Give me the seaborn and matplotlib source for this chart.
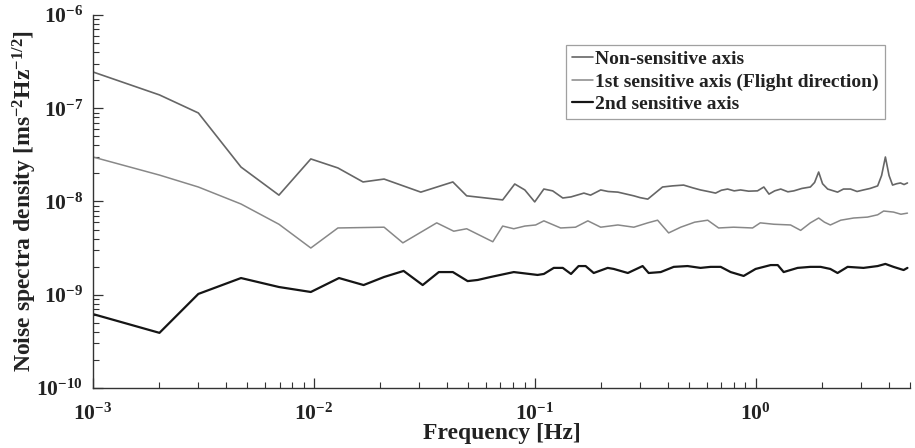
import matplotlib
matplotlib.use("Agg")
import matplotlib.pyplot as plt
import seaborn as sns
import pandas as pd
from matplotlib.lines import Line2D
from matplotlib.ticker import LogLocator, NullFormatter

# ---- data ----
freq_non = [0.001, 0.002, 0.003, 0.00468, 0.00695, 0.00969, 0.01285, 0.0167, 0.0208,
            0.0305, 0.0426, 0.0492, 0.0716, 0.0812, 0.0902, 0.100, 0.110, 0.1206, 0.134,
            0.146, 0.167, 0.179, 0.199, 0.215, 0.238, 0.26, 0.281, 0.30, 0.325, 0.379,
            0.42, 0.472, 0.52, 0.563, 0.61, 0.659, 0.70, 0.747, 0.80, 0.855, 0.93, 1.02,
            1.09, 1.15, 1.22, 1.30, 1.40, 1.49, 1.62, 1.77, 1.85, 1.93, 2.01, 2.12, 2.35,
            2.50, 2.69, 2.88, 3.08, 3.30, 3.57, 3.72, 3.87, 4.02, 4.17, 4.35, 4.53, 4.70, 4.87]
val_non = [2.45e-7, 1.39e-7, 8.9e-8, 2.34e-8, 1.17e-8, 2.86e-8, 2.29e-8, 1.62e-8, 1.74e-8,
           1.26e-8, 1.62e-8, 1.15e-8, 1.04e-8, 1.54e-8, 1.33e-8, 9.9e-9, 1.36e-8, 1.30e-8, 1.09e-8,
           1.12e-8, 1.23e-8, 1.17e-8, 1.33e-8, 1.28e-8, 1.26e-8, 1.20e-8, 1.15e-8, 1.10e-8, 1.06e-8, 1.43e-8,
           1.47e-8, 1.50e-8, 1.40e-8, 1.33e-8, 1.28e-8, 1.23e-8, 1.32e-8, 1.36e-8, 1.30e-8, 1.33e-8, 1.29e-8, 1.30e-8,
           1.43e-8, 1.20e-8, 1.30e-8, 1.36e-8, 1.27e-8, 1.30e-8, 1.38e-8, 1.43e-8, 1.60e-8, 2.07e-8, 1.55e-8, 1.36e-8, 1.26e-8,
           1.36e-8, 1.36e-8, 1.28e-8, 1.33e-8, 1.38e-8, 1.47e-8, 1.90e-8, 3.0e-8, 1.90e-8, 1.50e-8, 1.55e-8, 1.58e-8, 1.52e-8, 1.58e-8]

freq_first = [0.001, 0.002, 0.003, 0.00468, 0.00695, 0.00969, 0.01285, 0.0208, 0.0253, 0.0360,
              0.0430, 0.0492, 0.0646, 0.0716, 0.0804, 0.0902, 0.101, 0.110, 0.131, 0.153, 0.174,
              0.199, 0.238, 0.281, 0.325, 0.360, 0.404, 0.458, 0.53, 0.607, 0.680, 0.795, 0.969,
              1.05, 1.21, 1.44, 1.60, 1.77, 1.93, 2.05, 2.18, 2.43, 2.78, 3.21, 3.57, 3.80, 4.21,
              4.55, 4.87]
val_first = [3.0e-8, 1.92e-8, 1.43e-8, 9.4e-9, 5.7e-9, 3.17e-9, 5.2e-9, 5.3e-9, 3.6e-9, 5.9e-9,
             4.8e-9, 5.1e-9, 3.7e-9, 5.45e-9, 5.1e-9, 5.45e-9, 5.6e-9, 6.2e-9, 5.2e-9, 5.3e-9, 6.2e-9,
             5.3e-9, 5.6e-9, 5.3e-9, 5.9e-9, 6.3e-9, 4.6e-9, 5.3e-9, 6.0e-9, 6.3e-9, 5.2e-9, 5.3e-9, 5.2e-9,
             5.9e-9, 5.7e-9, 5.6e-9, 4.9e-9, 5.9e-9, 6.65e-9, 6.0e-9, 5.6e-9, 6.3e-9, 6.65e-9, 6.8e-9, 7.2e-9, 7.9e-9, 7.7e-9,
             7.3e-9, 7.5e-9]

freq_second = [0.001, 0.002, 0.003, 0.00468, 0.00695, 0.00969, 0.0130, 0.0168, 0.0208, 0.0255,
               0.0311, 0.0368, 0.0426, 0.0497, 0.0552, 0.0632, 0.0804, 0.103, 0.110, 0.122,
               0.134, 0.146, 0.158, 0.170, 0.185, 0.214, 0.228, 0.264, 0.308, 0.328, 0.372,
               0.426, 0.492, 0.563, 0.626, 0.695, 0.771, 0.883, 1.0, 1.17, 1.26, 1.34, 1.55,
               1.77, 1.97, 2.18, 2.35, 2.61, 3.08, 3.57, 3.87, 4.21, 4.68, 4.87]
val_second = [6.2e-10, 3.9e-10, 1.02e-9, 1.51e-9, 1.21e-9, 1.07e-9, 1.51e-9, 1.27e-9, 1.55e-9, 1.80e-9,
              1.27e-9, 1.75e-9, 1.75e-9, 1.40e-9, 1.44e-9, 1.55e-9, 1.75e-9, 1.63e-9, 1.67e-9, 1.94e-9,
              1.94e-9, 1.67e-9, 2.03e-9, 2.03e-9, 1.71e-9, 1.94e-9, 1.89e-9, 1.71e-9, 2.03e-9, 1.71e-9, 1.75e-9,
              1.99e-9, 2.03e-9, 1.94e-9, 1.99e-9, 1.99e-9, 1.75e-9, 1.59e-9, 1.89e-9, 2.08e-9, 2.08e-9, 1.75e-9, 1.94e-9,
              1.99e-9, 1.99e-9, 1.89e-9, 1.71e-9, 1.99e-9, 1.94e-9, 2.03e-9, 2.14e-9, 1.99e-9, 1.84e-9, 1.94e-9]

labels = ["Non-sensitive axis", "1st sensitive axis (Flight direction)", "2nd sensitive axis"]
colors = ["#666666", "#888888", "#151515"]
widths = [1.2, 1.1, 1.6]

# ---- style ----
sns.set_style("ticks")
plt.rcParams["font.family"] = ["Liberation Serif", "DejaVu Serif"]
plt.rcParams["font.weight"] = "bold"
plt.rcParams["mathtext.fontset"] = "custom"
plt.rcParams["mathtext.rm"] = "Liberation Serif:bold"
plt.rcParams["mathtext.it"] = "Liberation Serif:italic:bold"
plt.rcParams["mathtext.bf"] = "Liberation Serif:bold"

fig = plt.figure(figsize=(9.15, 4.48), dpi=100)
ax = fig.add_axes([0.1016, 0.134, 0.8929, 0.8325])

series = [(freq_non, val_non), (freq_first, val_first), (freq_second, val_second)]
handles = []
for (f, v), lab, c, w in zip(series, labels, colors, widths):
    df = pd.DataFrame({"freq": f, "val": v})
    sns.lineplot(data=df, x="freq", y="val", ax=ax, color=c, linewidth=w,
                 estimator=None, legend=False)
    handles.append(Line2D([0], [0], color=c, linewidth=w))

ax.set_xscale("log")
ax.set_yscale("log")
ax.set_xlim(1e-3, 5.0)
ax.set_ylim(1e-10, 1e-6)

ax.xaxis.set_major_locator(LogLocator(base=10, numticks=10))
ax.xaxis.set_minor_locator(LogLocator(base=10, subs=range(2, 10), numticks=20))
ax.yaxis.set_major_locator(LogLocator(base=10, numticks=10))
ax.yaxis.set_minor_locator(LogLocator(base=10, subs=range(2, 10), numticks=20))
ax.xaxis.set_minor_formatter(NullFormatter())
ax.yaxis.set_minor_formatter(NullFormatter())

sns.despine(ax=ax)
for s in ["left", "bottom"]:
    ax.spines[s].set_color("#333333")
    ax.spines[s].set_linewidth(1.0)
ax.tick_params(which="major", direction="in", length=7, width=0.9, colors="#333333",
               labelsize=15.5, labelcolor="#222222")
ax.tick_params(which="minor", direction="in", length=4, width=0.8, colors="#333333")
ax.tick_params(axis="x", pad=11)
ax.tick_params(axis="y", pad=7)

ax.set_xlabel("Frequency [Hz]", fontsize=17, fontweight="bold", color="#222222")
ax.xaxis.set_label_coords(0.5, -0.094)
ax.xaxis.label.set_va("top")
ax.set_ylabel(r"Noise spectra density [ms$^{-2}$Hz$^{-1/2}$]", fontsize=17,
              fontweight="bold", color="#222222")
ax.yaxis.set_label_coords(-0.083, 0.5)
ax.yaxis.label.set_va("center")

leg = ax.legend(handles, labels, loc="upper right", bbox_to_anchor=(0.969, 0.92),
                fontsize=14, frameon=True, fancybox=False, handlelength=1.1,
                handletextpad=0.1, borderpad=0.3, labelspacing=0.25, borderaxespad=0)
leg.get_frame().set_edgecolor("#888888")
leg.get_frame().set_linewidth(0.9)
for t in leg.get_texts():
    t.set_color("#222222")
    t.set_fontweight("bold")

fig.savefig("out.png", dpi=100)
